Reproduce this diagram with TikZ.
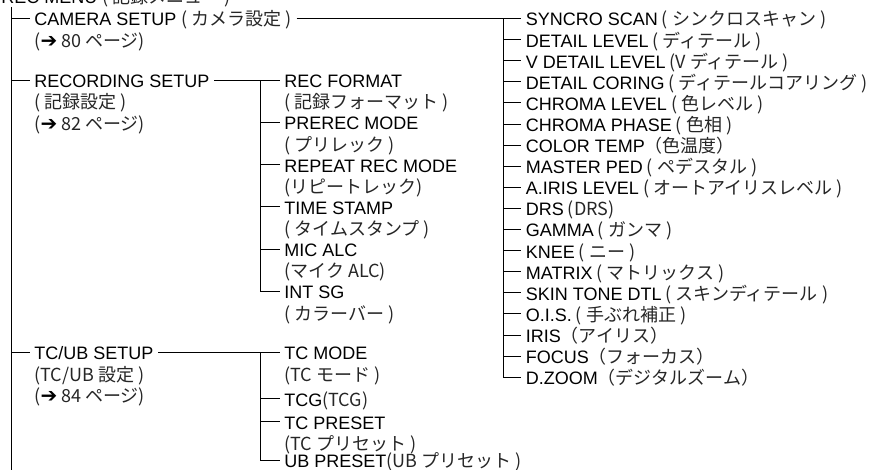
\documentclass[tikz,border=0pt]{standalone}
\usepackage{fontspec}
\usepackage{xcolor}
\usepackage{tikz}
\setmainfont{Liberation Sans}
\newfontfamily\jpfont{Noto Sans CJK JP}
\newfontfamily\symfont{DejaVu Sans}
\newcommand{\jp}[1]{{\jpfont\color{black!85}#1}}
\newcommand{\pg}[1]{\jp{(}{\symfont\fontsize{20}{21}\selectfont ➔}\jp{\ #1 ページ)}}

\begin{document}
\begin{tikzpicture}[x=1pt,y=-1pt,line width=0.85pt,
    item/.style={anchor=base west,inner xsep=4.5pt,inner ysep=0pt,text height=15pt,text depth=0pt,font=\fontsize{18}{21}\selectfont}]
      \useasboundingbox (0,0) rectangle (886,470);
      \clip (0,0) rectangle (886,470);
      % menu title, cut at the top edge
      \node[item] (menu) at (-3.5,3.5) {REC MENU \jp{( 記録メニュー )}};
      \coordinate (trunk) at (11,7);
      \coordinate (trunk end) at (11,470);
      \coordinate (mtrunk) at (260,0);
      \coordinate (rtrunk) at (503,0);
      \draw (trunk) -- (trunk end);
      % first level
      \node[item] (camera) at (29.5,26) {CAMERA SETUP \jp{( カメラ設定 )}};
      \node[item] (camera page) at (29.5,47.3) {\pg{80}};
      \node[item] (rec) at (29.5,87.7) {RECORDING SETUP};
      \node[item] (rec jp) at (29.5,109) {\jp{( 記録設定 )}};
      \node[item] (rec page) at (29.5,130.3) {\pg{82}};
      \node[item] (tcub) at (29.5,359.7) {TC/UB SETUP};
      \node[item] (tcub jp) at (29.5,381) {\jp{(TC/UB 設定 )}};
      \node[item] (tcub page) at (29.5,402.3) {\pg{84}};
      \foreach \n in {camera,rec,tcub} \draw (\n.west -| trunk) -- (\n.west);
      % recording setup
      \foreach \n/\a/\b [count=\i from 0] in {fmt/REC FORMAT/( 記録フォーマット ),prerec/PREREC MODE/( プリレック ),
          repeat/REPEAT REC MODE/(リピートレック),stamp/TIME STAMP/( タイムスタンプ ),mic/MIC ALC/(マイク ALC),isg/INT SG/( カラーバー )} {
        \node[item] (\n) at (279.5,87.7+42.2*\i) {\a};
        \node[item] (\n jp) at (279.5,109+42.2*\i) {\jp{\b}};
      }
      \draw (rec.east) -- (fmt.west);
      \draw (fmt.west -| mtrunk) -- (isg.west -| mtrunk) -- (isg.west);
      \foreach \n in {prerec,repeat,stamp,mic} \draw (\n.west -| mtrunk) -- (\n.west);
      % tc/ub setup
      \node[item] (tcmode) at (279.5,359.7) {TC MODE};
      \node[item] (tcmode jp) at (279.5,381) {\jp{(TC モード )}};
      \node[item] (tcg) at (279.5,406) {TCG\jp{(TCG)}};
      \node[item] (tcpre) at (279.5,429.4) {TC PRESET};
      \node[item] (tcpre jp) at (279.5,450.6) {\jp{(TC プリセット )}};
      \node[item] (ubpre) at (279.5,467.5) {UB PRESET\jp{(UB プリセット )}};
      \draw (tcub.east) -- (tcmode.west);
      \draw (tcmode.west -| mtrunk) -- (ubpre.west -| mtrunk) -- (ubpre.west);
      \foreach \n in {tcg,tcpre} \draw (\n.west -| mtrunk) -- (\n.west);
      % camera setup
      \foreach \a/\b [count=\i from 0] in {SYNCRO SCAN/~( シンクロスキャン ),DETAIL LEVEL/~( ディテール ),
          V DETAIL LEVEL/~(V ディテール ),DETAIL CORING/~( ディテールコアリング ),CHROMA LEVEL/~( 色レベル ),
          CHROMA PHASE/~( 色相 ),COLOR TEMP/（色温度）,MASTER PED/~( ペデスタル ),
          A.IRIS LEVEL/~( オートアイリスレベル ),DRS/~(DRS),GAMMA/~( ガンマ ),KNEE/~( ニー ),
          MATRIX/~( マトリックス ),SKIN TONE DTL/~( スキンディテール ),O.I.S./~( 手ぶれ補正 ),
          IRIS/（アイリス）,FOCUS/（フォーカス）,D.ZOOM/（デジタルズーム）}
        \node[item] (cam\i) at (521,26+21.1*\i) {\a\jp{\b}};
      \draw (camera.east) -- (cam0.west);
      \draw (cam0.west -| rtrunk) -- (cam17.west -| rtrunk) -- (cam17.west);
      \foreach \i in {1,...,16} \draw (cam\i.west -| rtrunk) -- (cam\i.west);
    \end{tikzpicture}
\end{document}
